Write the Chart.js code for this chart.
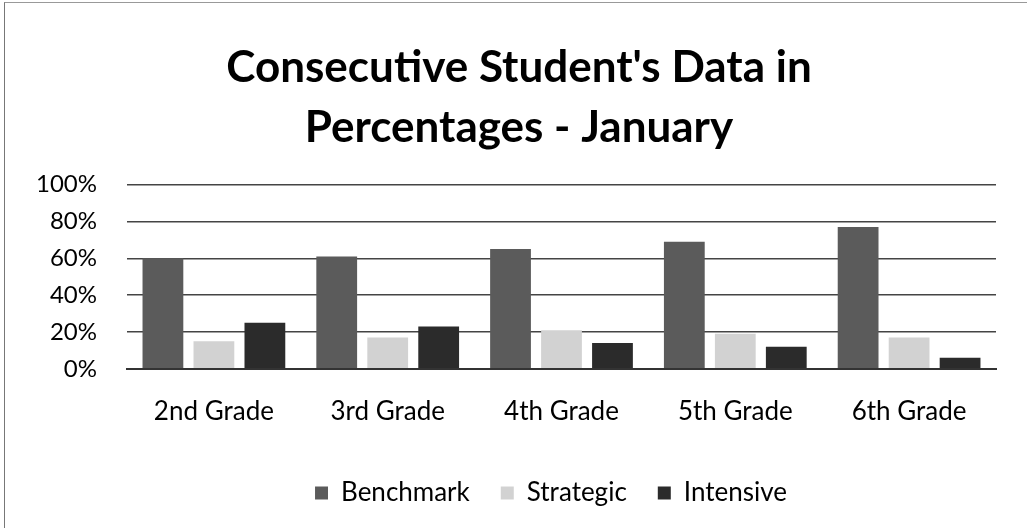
<!DOCTYPE html>
<html>
<head>
<meta charset="utf-8">
<script src="https://cdn.jsdelivr.net/npm/chart.js@4/dist/chart.umd.min.js"></script>
<style>
	html, body { margin: 0; padding: 0; background: #fff; }
	.frame { position: relative; width: 1027px; height: 528px; box-sizing: border-box; border-left: 1px solid #777; border-top: 1px solid #999; margin-left: 4px; margin-top: 2px; }
	canvas { position: absolute; left: -5px; top: -3px; }
</style>
</head>
<body>
<div class="frame"><canvas id="chart" width="1027" height="528"></canvas></div>
<script>
const grades = ['2nd Grade', '3rd Grade', '4th Grade', '5th Grade', '6th Grade'];
const benchmark = [60, 61, 65, 69, 77];
const strategic = [15, 17, 21, 19, 17];
const intensive = [25, 23, 14, 12, 6];
const yTicks = [0, 20, 40, 60, 80, 100];

const fontFamily = 'Lato, "Open Sans", sans-serif';

// title and legend sit a bit right of centre in the original
const nudgeBoxes = {
	id: 'nudgeBoxes',
	afterLayout: (chart) => {
		if (chart.legend) {
			chart.legend.left += 106;
		}
		if (chart.titleBlock) {
			chart.titleBlock.left += 21;
			chart.titleBlock.right += 21;
		}
	},
};

new Chart(document.getElementById('chart'), {
	type: 'bar',
	data: {
		labels: grades,
		datasets: [
			{ label: 'Benchmark', data: benchmark, backgroundColor: '#5b5b5b' },
			{ label: 'Strategic', data: strategic, backgroundColor: '#d2d2d2' },
			{ label: 'Intensive', data: intensive, backgroundColor: '#2b2b2b' },
		],
	},
	plugins: [nudgeBoxes],
	options: {
		responsive: false,
		animation: false,
		categoryPercentage: 0.88,
		barPercentage: 0.8,
		layout: { padding: { left: 0, right: 31, top: 38, bottom: 12 } },
		plugins: {
			title: {
				display: true,
				text: ["Consecutive Student's Data in", 'Percentages - January'],
				color: '#000',
				font: { family: fontFamily, size: 44, weight: 'bold', lineHeight: 1.36 },
				padding: { top: 0, bottom: 27 },
			},
			legend: {
				position: 'bottom',
				labels: {
					color: '#000',
					font: { family: fontFamily, size: 26 },
					boxWidth: 13,
					boxHeight: 13,
					padding: 31,
				},
			},
			tooltip: { enabled: false },
		},
		scales: {
			x: {
				grid: { display: false },
				border: { color: '#333', width: 2 },
				ticks: { color: '#000', padding: 19, font: { family: fontFamily, size: 26 } },
				afterFit: (scale) => { scale.height += 3; },
			},
			y: {
				min: 0,
				max: 100,
				afterBuildTicks: (scale) => { scale.ticks = yTicks.map((value) => ({ value })); },
				grid: { color: '#444', lineWidth: 1.5, drawTicks: false },
				border: { display: false },
				ticks: {
					color: '#000',
					padding: 30,
					font: { family: fontFamily, size: 24 },
					callback: (value) => value + '%',
				},
				afterFit: (scale) => { scale.width = 127; },
			},
		},
	},
});
</script>
</body>
</html>
